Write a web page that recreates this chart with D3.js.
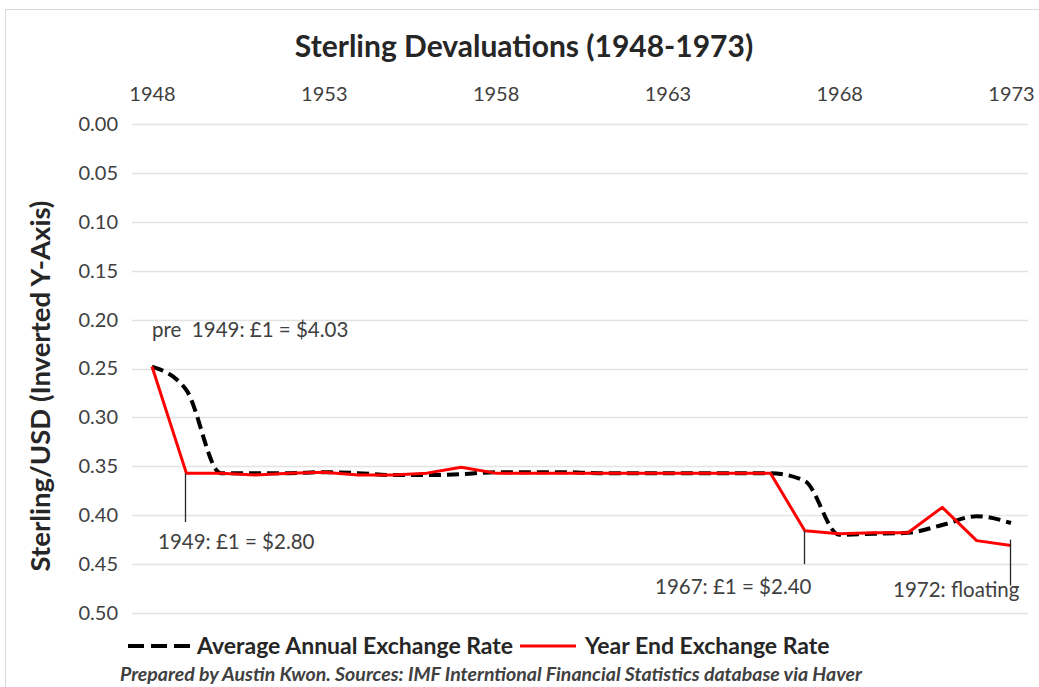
<!DOCTYPE html>
<html>
<head>
<meta charset="utf-8">
<script src="https://cdn.jsdelivr.net/npm/d3@7"></script>
<style>
  body { margin: 0; background: #fff; }
  text { font-family: Lato, "Open Sans", sans-serif; white-space: pre; }
</style>
</head>
<body>
<svg id="chart" width="1039" height="687"></svg>
<script>
// years on the x axis
var years = d3.range(1948, 1974);
// sterling per US dollar, average over the year
var avgRate = [0.248, 0.272, 0.357, 0.357, 0.357, 0.356, 0.357, 0.359, 0.359, 0.358,
               0.356, 0.356, 0.356, 0.357, 0.357, 0.357, 0.357, 0.357, 0.357, 0.365,
               0.420, 0.419, 0.418, 0.410, 0.401, 0.408];
// sterling per US dollar, end of year
var endRate = [0.248, 0.357, 0.357, 0.359, 0.357, 0.356, 0.359, 0.359, 0.357, 0.351,
               0.357, 0.357, 0.357, 0.357, 0.357, 0.357, 0.357, 0.357, 0.357, 0.416,
               0.419, 0.418, 0.418, 0.392, 0.426, 0.431];
var xTicks = [1948, 1953, 1958, 1963, 1968, 1973];
var yTicks = [0, 0.05, 0.1, 0.15, 0.2, 0.25, 0.3, 0.35, 0.4, 0.45, 0.5];
var notes = [
  {year: 1948, value: 0.25, text: "pre  1949: £1 = $4.03"},
  {year: 1949, value: 0.357, text: "1949: £1 = $2.80"},
  {year: 1967, value: 0.416, text: "1967: £1 = $2.40"},
  {year: 1973, value: 0.431, text: "1972: floating"}
];

var svg = d3.select("#chart");

// outer frame
svg.append("rect")
    .attr("x", 5.5).attr("y", 9.5)
    .attr("width", 1040).attr("height", 690)
    .attr("fill", "none").attr("stroke", "#d9d9d9");

var x = d3.scaleLinear().domain([1948, 1973]).range([152, 1011]);
var y = d3.scaleLinear().domain([0, 0.5]).range([124, 613]);

// gridlines
svg.append("g").selectAll("line")
    .data(yTicks)
    .enter().append("line")
    .attr("x1", 132).attr("x2", 1028)
    .attr("y1", function(d) { return Math.round(y(d)) + 0.5; })
    .attr("y2", function(d) { return Math.round(y(d)) + 0.5; })
    .attr("stroke", "#e3e3e3").attr("stroke-width", 1.5);

// top axis (years)
var xAxis = d3.axisTop(x).tickValues(xTicks).tickFormat(d3.format("d")).tickSize(0).tickPadding(0);
svg.append("g")
    .attr("transform", "translate(0,101)")
    .call(xAxis)
    .call(function(g) { g.select(".domain").remove(); })
    .selectAll("text")
    .attr("font-size", 20).attr("fill", "#404040")
    .attr("font-family", "Lato, sans-serif");

// left axis
var yAxis = d3.axisLeft(y).tickValues(yTicks).tickFormat(d3.format(".2f")).tickSize(0).tickPadding(0);
svg.append("g")
    .attr("transform", "translate(118,0)")
    .call(yAxis)
    .call(function(g) { g.select(".domain").remove(); })
    .selectAll("text")
    .attr("font-size", 20).attr("fill", "#404040")
    .attr("font-family", "Lato, sans-serif");

// title
svg.append("text")
    .attr("x", 524).attr("y", 57)
    .attr("text-anchor", "middle")
    .attr("font-size", 30).attr("font-weight", "bold").attr("fill", "#262626")
    .text("Sterling Devaluations (1948-1973)");

// y axis title
svg.append("text")
    .attr("transform", "translate(50,386) rotate(-90)")
    .attr("text-anchor", "middle")
    .attr("font-size", 27.5).attr("font-weight", "bold").attr("fill", "#262626")
    .text("Sterling/USD (Inverted Y-Axis)");

// series
var avgLine = d3.line()
    .x(function(d, i) { return x(years[i]); })
    .y(function(d) { return y(d); })
    .curve(d3.curveMonotoneX);
var endLine = d3.line()
    .x(function(d, i) { return x(years[i]); })
    .y(function(d) { return y(d); });

svg.append("path")
    .datum(avgRate)
    .attr("d", avgLine)
    .attr("fill", "none").attr("stroke", "#000")
    .attr("stroke-width", 4).attr("stroke-dasharray", "12,6");

svg.append("path")
    .datum(endRate)
    .attr("d", endLine)
    .attr("fill", "none").attr("stroke", "#ff0000")
    .attr("stroke-width", 3).attr("stroke-linejoin", "round");

// annotations
var leaders = [
  {year: 1949, from: 0.357, to: 0.407},
  {year: 1967, from: 0.416, to: 0.45},
  {year: 1973, from: 0.425, to: 0.472}
];
svg.append("g").selectAll("line")
    .data(leaders)
    .enter().append("line")
    .attr("x1", function(d) { return Math.round(x(d.year)) - 0.5; })
    .attr("x2", function(d) { return Math.round(x(d.year)) - 0.5; })
    .attr("y1", function(d) { return y(d.from); })
    .attr("y2", function(d) { return y(d.to); })
    .attr("stroke", "#262626").attr("stroke-width", 1.3);

var noteX = [152, 158, 655, 893];
var noteY = [337, 549, 594, 597];
svg.append("g").selectAll("text")
    .data(notes)
    .enter().append("text")
    .attr("x", function(d, i) { return noteX[i]; })
    .attr("y", function(d, i) { return noteY[i]; })
    .attr("font-size", 20.5).attr("fill", "#404040")
    .text(function(d) { return d.text; });

// legend
var legend = svg.append("g").attr("transform", "translate(0,646)");
legend.append("line")
    .attr("x1", 128).attr("x2", 190)
    .attr("stroke", "#000").attr("stroke-width", 4).attr("stroke-dasharray", "16,7");
legend.append("text")
    .attr("x", 197).attr("y", 8)
    .attr("font-size", 23).attr("font-weight", "bold").attr("fill", "#262626")
    .text("Average Annual Exchange Rate");
legend.append("line")
    .attr("x1", 520).attr("x2", 576)
    .attr("stroke", "#ff0000").attr("stroke-width", 3);
legend.append("text")
    .attr("x", 585).attr("y", 8)
    .attr("font-size", 23).attr("font-weight", "bold").attr("fill", "#262626")
    .text("Year End Exchange Rate");

// source note
svg.append("text")
    .attr("x", 120).attr("y", 681)
    .attr("font-size", 19.5).attr("font-style", "italic").attr("font-weight", "bold")
    .attr("fill", "#404040")
    .text("Prepared by Austin Kwon. Sources: IMF Interntional Financial Statistics database via Haver");
</script>
</body>
</html>
